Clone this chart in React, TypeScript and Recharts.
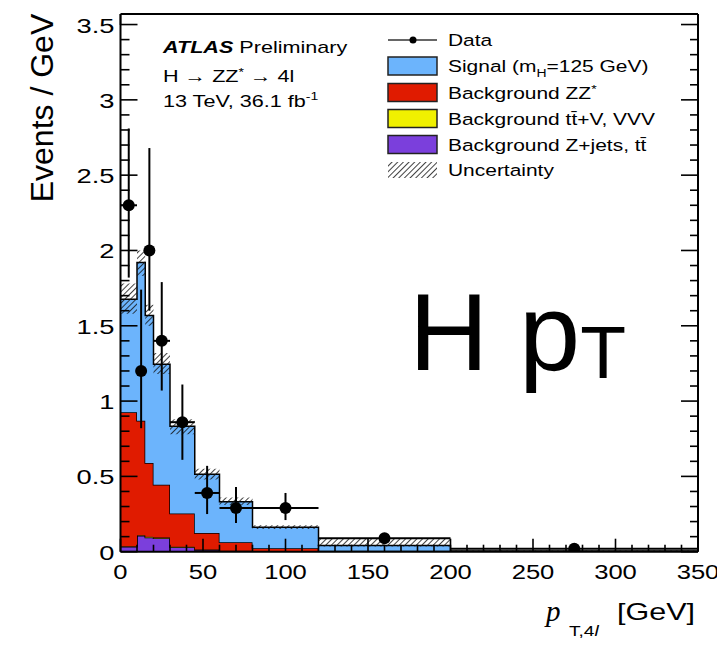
import React from "react";
import {
  ComposedChart,
  Area,
  Scatter,
  ErrorBar,
  XAxis,
  YAxis,
} from "recharts";

// ---- Data ----
const binEdges = [0, 10, 15, 20, 30, 45, 60, 80, 120, 200, 350];
const zjetsValues = [0.033, 0.106, 0.095, 0.09, 0.03, 0.012, 0.006, 0.002, 0.0005, 0.0002];
const ttvValues = [0.003, 0.004, 0.004, 0.004, 0.003, 0.002, 0.001, 0.001, 0.0003, 0.0001];
const zzValues = [0.89, 0.76, 0.49, 0.35, 0.22, 0.11, 0.055, 0.02, 0.005, 0.001];
const signalValues = [0.75, 1.05, 0.98, 0.8, 0.58, 0.39, 0.27, 0.14, 0.035, 0.003];
const uncLow = [1.58, 1.83, 1.5, 1.18, 0.78, 0.48, 0.31, 0.15, 0.035, 0.0];
const uncHigh = [1.78, 2.0, 1.64, 1.32, 0.88, 0.55, 0.36, 0.175, 0.085, 0.01];

const dataX = [5, 12.5, 17.5, 25, 37.5, 52.5, 70, 100, 160, 275];
const dataY = [2.3, 1.2, 2.0, 1.4, 0.86, 0.39, 0.29, 0.29, 0.09, 0.02];
const dataErrLow = [0.48, 0.38, 0.4, 0.33, 0.25, 0.14, 0.1, 0.08, 0.03, 0.01];
const dataErrHigh = [0.51, 0.54, 0.68, 0.39, 0.25, 0.18, 0.14, 0.1, 0.03, 0.01];
const dataXErr = [5, 2.5, 2.5, 5, 7.5, 7.5, 10, 20, 40, 75];

const xTicks = [0, 10, 20, 30, 40, 50, 60, 70, 80, 90, 100, 110, 120, 130, 140, 150, 160, 170, 180, 190, 200, 210, 220, 230, 240, 250, 260, 270, 280, 290, 300, 310, 320, 330, 340, 350];
const xTickLabels = ["0", "50", "100", "150", "200", "250", "300", "350"];
const yTicks = [0, 0.1, 0.2, 0.3, 0.4, 0.5, 0.6, 0.7, 0.8, 0.9, 1, 1.1, 1.2, 1.3, 1.4, 1.5, 1.6, 1.7, 1.8, 1.9, 2, 2.1, 2.2, 2.3, 2.4, 2.5, 2.6, 2.7, 2.8, 2.9, 3, 3.1, 3.2, 3.3, 3.4, 3.5];
const yTickLabels = ["0", "0.5", "1", "1.5", "2", "2.5", "3", "3.5"];

const COLORS = {
  signal: "#6cb4fc",
  zz: "#e01b00",
  ttv: "#f0f000",
  zjets: "#7b3fdc",
};

const nBins = binEdges.length - 1;
const histRows = binEdges.map((edge, i) => {
  const b = Math.min(i, nBins - 1);
  return {
    x: edge,
    zjets: zjetsValues[b],
    ttv: ttvValues[b],
    zz: zzValues[b],
    signal: signalValues[b],
    unc: [uncLow[b], uncHigh[b]],
  };
});

const pointRows = dataX.map((x, i) => ({
  x,
  y: dataY[i],
  yerr: [dataErrLow[i], dataErrHigh[i]],
  xerr: dataXErr[i],
}));

// ---- Layout ----
const W = 717;
const H = 630;
// axes take 1px each; margins compensate so plot = [112.5, 690] x [6, 543.7]
const M = { top: 5, right: 26, bottom: 85.3, left: 111.5 };
const FONT = "'Liberation Sans', Arial, Helvetica, sans-serif";
const SX = 1.27;

const isMajorX = (v: number) => Math.abs(v % 50) < 1e-6;
const isMajorY = (v: number) => Math.abs(v * 2 - Math.round(v * 2)) < 1e-6;
const fmtY = (v: number) => yTickLabels[Math.round(v * 2)];

const BottomTick = (props: any) => {
  const { x, y, payload } = props;
  const v = payload.value;
  const major = isMajorX(v);
  const len = major ? 13 : 7;
  return (
    <g>
      <line x1={x} x2={x} y1={y} y2={y - len} stroke="#000" strokeWidth={1.6} />
      {major && (
        <text
          transform={`translate(${x} ${y + 27}) scale(1.22 1)`}
          textAnchor="middle"
          fontSize={21}
          fontFamily={FONT}
          fill="#000"
        >
          {xTickLabels[Math.round(v / 50)]}
        </text>
      )}
    </g>
  );
};

const TopTick = (props: any) => {
  const { x, y, payload } = props;
  const major = isMajorX(payload.value);
  const len = major ? 11 : 6;
  return <line x1={x} x2={x} y1={y} y2={y + len} stroke="#000" strokeWidth={1.6} />;
};

const LeftTick = (props: any) => {
  const { x, y, payload } = props;
  const v = payload.value;
  const major = isMajorY(v);
  const len = major ? 17 : 9;
  return (
    <g>
      <line x1={x} x2={x + len} y1={y} y2={y} stroke="#000" strokeWidth={1.6} />
      {major && (
        <text
          transform={`translate(${x - 6} ${y + 8}) scale(1.3 1)`}
          textAnchor="end"
          fontSize={21}
          fontFamily={FONT}
          fill="#000"
        >
          {fmtY(v)}
        </text>
      )}
    </g>
  );
};

const RightTick = (props: any) => {
  const { x, y, payload } = props;
  const major = isMajorY(payload.value);
  const len = major ? 17 : 8;
  return <line x1={x} x2={x - len} y1={y} y2={y} stroke="#000" strokeWidth={1.6} />;
};

const DataPoint = (props: any) => {
  const { cx, cy } = props;
  return <circle cx={cx} cy={cy} r={6} fill="#000" />;
};

const legendRows = [
  { kind: "data", label: "Data" },
  { kind: "box", color: COLORS.signal, label: "signal" },
  { kind: "box", color: COLORS.zz, label: "zz" },
  { kind: "box", color: COLORS.ttv, label: "ttv" },
  { kind: "box", color: COLORS.zjets, label: "zjets" },
  { kind: "hatch", label: "Uncertainty" },
];
const legendCenters = [32, 58, 84.5, 110.5, 136.5, 162];

const LegendText = ({ label }: { label: string }) => {
  if (label === "signal") {
    return (
      <>
        Signal (m
        <tspan fontSize={11} dy={5}>H</tspan>
        <tspan dy={-5}>=125 GeV)</tspan>
      </>
    );
  }
  if (label === "zz") {
    return (
      <>
        Background ZZ
        <tspan fontSize={11} dy={-6}>*</tspan>
      </>
    );
  }
  if (label === "ttv") return <>Background tt{"\u0304"}+V, VVV</>;
  if (label === "zjets") return <>Background Z+jets, tt{"\u0304"}</>;
  return <>{label}</>;
};

export default function App() {
  return (
    <div style={{ position: "relative", width: W, height: H }}>
      <svg width={0} height={0} style={{ position: "absolute" }}>
        <defs>
          <pattern
            id="hatch"
            width={4}
            height={4}
            patternUnits="userSpaceOnUse"
            patternTransform="rotate(45)"
          >
            <line x1={0} y1={0} x2={0} y2={4} stroke="#111" strokeWidth={1.6} />
          </pattern>
        </defs>
      </svg>
      <ComposedChart width={W} height={H} data={histRows} margin={M}>
        <XAxis
          xAxisId={0}
          dataKey="x"
          type="number"
          domain={[0, 350]}
          ticks={xTicks}
          interval={0}
          allowDataOverflow
          height={1}
          tickSize={0}
          tickMargin={0}
          tick={BottomTick}
          axisLine={{ stroke: "#000", strokeWidth: 2 }}
        />
        <XAxis
          xAxisId="top"
          orientation="top"
          type="number"
          domain={[0, 350]}
          ticks={xTicks}
          interval={0}
          allowDataOverflow
          height={1}
          tickSize={0}
          tickMargin={0}
          tick={TopTick}
          axisLine={{ stroke: "#000", strokeWidth: 2 }}
        />
        <YAxis
          yAxisId={0}
          type="number"
          domain={[0, 3.57]}
          ticks={yTicks}
          interval={0}
          allowDataOverflow
          width={1}
          tickSize={0}
          tickMargin={0}
          tick={LeftTick}
          axisLine={{ stroke: "#000", strokeWidth: 2 }}
        />
        <YAxis
          yAxisId="right"
          orientation="right"
          type="number"
          domain={[0, 3.57]}
          ticks={yTicks}
          interval={0}
          allowDataOverflow
          width={1}
          tickSize={0}
          tickMargin={0}
          tick={RightTick}
          axisLine={{ stroke: "#000", strokeWidth: 2 }}
        />
        <Area
          dataKey="zjets"
          stackId="s"
          type="stepAfter"
          fill={COLORS.zjets}
          fillOpacity={1}
          stroke="#000"
          strokeWidth={1.5}
          dot={false}
          activeDot={false}
          isAnimationActive={false}
        />
        <Area
          dataKey="ttv"
          stackId="s"
          type="stepAfter"
          fill={COLORS.ttv}
          fillOpacity={1}
          stroke="#000"
          strokeWidth={1}
          dot={false}
          activeDot={false}
          isAnimationActive={false}
        />
        <Area
          dataKey="zz"
          stackId="s"
          type="stepAfter"
          fill={COLORS.zz}
          fillOpacity={1}
          stroke="#000"
          strokeWidth={1.5}
          dot={false}
          activeDot={false}
          isAnimationActive={false}
        />
        <Area
          dataKey="signal"
          stackId="s"
          type="stepAfter"
          fill={COLORS.signal}
          fillOpacity={1}
          stroke="#000"
          strokeWidth={1.5}
          dot={false}
          activeDot={false}
          isAnimationActive={false}
        />
        <Area
          dataKey="unc"
          type="stepAfter"
          fill="url(#hatch)"
          fillOpacity={1}
          stroke="none"
          dot={false}
          activeDot={false}
          isAnimationActive={false}
        />
        <Scatter
          data={pointRows}
          dataKey="y"
          shape={DataPoint}
          isAnimationActive={false}
        >
          <ErrorBar dataKey="yerr" direction="y" width={0} stroke="#000" strokeWidth={2} />
          <ErrorBar dataKey="xerr" direction="x" width={0} stroke="#000" strokeWidth={2} />
        </Scatter>
      </ComposedChart>

      <svg
        width={W}
        height={H}
        style={{ position: "absolute", left: 0, top: 0, pointerEvents: "none" }}
        fontFamily={FONT}
      >
        {/* ATLAS label */}
        <g transform={`translate(155 45) scale(${SX} 1)`}>
          <text x={0} y={0} fontSize={17} fill="#000">
            <tspan fontWeight="bold" fontStyle="italic">ATLAS</tspan>
            <tspan> Preliminary</tspan>
          </text>
          <text x={0} y={29} fontSize={17} fill="#000">
            H {"\u2192"} ZZ<tspan fontSize={11} dy={-6}>*</tspan>
            <tspan dy={6}> {"\u2192"} 4l</tspan>
          </text>
          <text x={0} y={54} fontSize={17} fill="#000">
            13 TeV, 36.1 fb<tspan fontSize={11} dy={-7}>-1</tspan>
          </text>
        </g>

        {/* Legend */}
        {legendRows.map((row, i) => {
          const cy = legendCenters[i];
          return (
            <g key={i}>
              {row.kind === "data" && (
                <g>
                  <line x1={380} x2={429} y1={cy} y2={cy} stroke="#333" strokeWidth={1.5} />
                  <circle cx={405} cy={cy} r={3.5} fill="#000" />
                </g>
              )}
              {row.kind === "box" && (
                <rect x={380} y={cy - 9} width={49} height={18} fill={row.color} stroke="#222" strokeWidth={1.5} />
              )}
              {row.kind === "hatch" && (
                <rect x={380} y={cy - 8} width={49} height={16} fill="url(#hatch)" />
              )}
              <text
                transform={`translate(440 ${cy + 6}) scale(${SX} 1)`}
                fontSize={16.5}
                fill="#000"
              >
                <LegendText label={row.label} />
              </text>
            </g>
          );
        })}

        {/* Big annotation */}
        <text x={401} y={362} fontSize={110} fill="#000">
          H p<tspan fontSize={75} dy={8}>T</tspan>
        </text>

        {/* Y axis title */}
        <text
          transform="translate(45 100) rotate(-90)"
          textAnchor="middle"
          fontSize={32}
          fill="#000"
        >
          Events / GeV
        </text>

        {/* X axis title */}
        <text
          x={538}
          y={613}
          fontSize={29}
          fontStyle="italic"
          fontFamily="'Liberation Serif', 'Times New Roman', serif"
          fill="#000"
        >
          p
        </text>
        <text transform={`translate(561 628) scale(${SX} 1)`} fontSize={15} fill="#000">
          T,4<tspan fontStyle="italic">l</tspan>
        </text>
        <text
          transform={`translate(687 612) scale(${SX} 1)`}
          textAnchor="end"
          fontSize={24}
          fill="#000"
        >
          [GeV]
        </text>
      </svg>
    </div>
  );
}
